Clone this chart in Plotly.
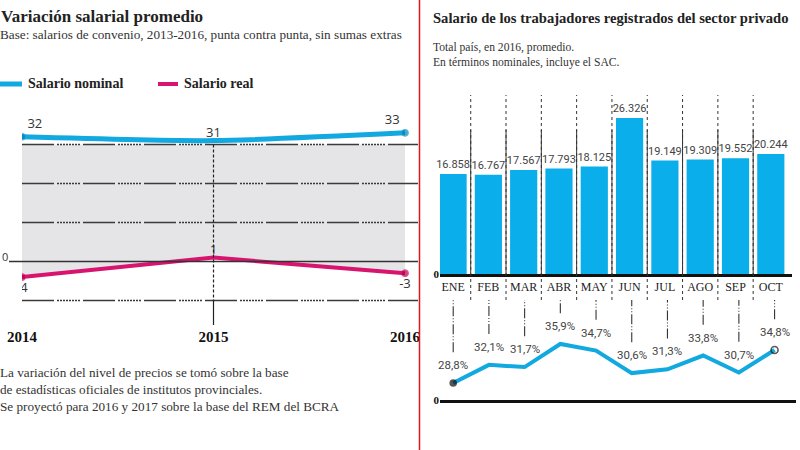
import plotly.graph_objects as go

# Left chart: variación salarial promedio (%)
years = [2014, 2015, 2016]
nominal = [32, 31, 33]
real = [-4, 1, -3]
grid_left = [30, 20, 10, -10]

# Right chart: salario promedio 2016 y variación interanual
months = ["ENE", "FEB", "MAR", "ABR", "MAY", "JUN", "JUL", "AGO", "SEP", "OCT"]
salary = [16858, 16767, 17567, 17793, 18125, 26326, 19149, 19309, 19552, 20244]
yoy = [28.8, 32.1, 31.7, 35.9, 34.7, 30.6, 31.3, 33.8, 30.7, 34.8]

BLUE = "#12a8e0"
BAR = "#0aaeea"
PINK = "#d8146f"
SERIF = "Liberation Serif, DejaVu Serif, serif"
NARROW = "Roboto, Open Sans, sans-serif"
W, H = 800, 450


def px_x(p):
    return p / W


def px_y(p):
    return 1 - p / H


fig = go.Figure()

# gray band between the 30 line and the real-salary line
fig.add_trace(go.Scatter(x=years, y=[grid_left[0]] * len(years), mode="lines",
                         line=dict(width=0), hoverinfo="skip", showlegend=False))
fig.add_trace(go.Scatter(x=years, y=real, mode="lines+markers+text", fill="tonexty",
                         fillcolor="#e5e5e7", line=dict(color=PINK, width=4),
                         marker=dict(size=[7, 0, 7], color="#b3004f"),
                         text=[str(v) for v in real],
                         textposition=["bottom center", "top center", "bottom center"],
                         textfont=dict(family="Open Sans", size=13, color="#333"),
                         showlegend=False))
fig.add_trace(go.Scatter(x=years, y=nominal, mode="lines+markers+text",
                         line=dict(color=BLUE, width=5, shape="spline", smoothing=0.6),
                         marker=dict(size=[7, 0, 7], color="#0b7fb2"),
                         text=[str(v) for v in nominal],
                         textposition=["top right", "top center", "top left"],
                         textfont=dict(family="Open Sans", size=13, color="#333"),
                         showlegend=False))

# bars
fig.add_trace(go.Bar(x=months, y=salary, marker=dict(color=BAR, line=dict(width=0)),
                     width=0.77, texttemplate="%{y:,}", textposition="outside",
                     constraintext="none",
                     textfont=dict(family=NARROW, size=11, color="#444"),
                     cliponaxis=False, xaxis="x2", yaxis="y2", showlegend=False))

# year-on-year line
n = len(yoy)
fig.add_trace(go.Scatter(x=months, y=yoy, mode="lines+markers",
                         line=dict(color=BLUE, width=4),
                         marker=dict(size=[6] + [0] * (n - 2) + [7],
                                     symbol=["circle"] * (n - 1) + ["circle-open"],
                                     color="#111", line=dict(width=1.6, color="#111")),
                         xaxis="x3", yaxis="y3", showlegend=False))

gy = 43.9
for m, v in zip(months, yoy):
    fig.add_annotation(x=m, y=v, xref="x3", yref="y3", yshift=18, showarrow=False,
                       text=f"{v:.1f}%".replace(".", ","),
                       font=dict(family=NARROW, size=11.5, color="#444"))
    fig.add_shape(type="line", xref="x3", yref="y3", x0=m, x1=m, y0=v + 5.6, y1=gy,
                  line=dict(color="#333", width=1.1, dash="10px,2px,1px,2px,1px,2px"))

# separators between bars
for i in range(len(months) - 1):
    fig.add_shape(type="line", xref="x2", yref="paper", x0=i + 0.5, x1=i + 0.5,
                  y0=px_y(300), y1=px_y(95), line=dict(color="#333", width=1, dash="dot"))
    fig.add_shape(type="line", xref="x2", yref="y2", x0=i + 0.5, x1=i + 0.5,
                  y0=0, y1=24300, line=dict(color="#333", width=1))

# left gridlines, zero line and 2015 marker line
for g in grid_left:
    fig.add_shape(type="line", xref="paper", yref="y", x0=px_x(22), x1=px_x(418), y0=g, y1=g,
                  line=dict(color="#3a3a3a", width=1.3,
                            dash="32px,3px,2px,1px,2px,1px,2px,1px,2px,1px,2px,1px,2px,1px,2px,1px,2px,3px"))
fig.add_shape(type="line", xref="paper", yref="y", x0=px_x(9), x1=px_x(418), y0=0, y1=0,
              line=dict(color="#333", width=1.4))
fig.add_shape(type="line", xref="x", yref="y", x0=years[1], x1=years[1], y0=grid_left[0],
              y1=grid_left[-1], line=dict(color="#222", width=1.2, dash="3px,2px"))
fig.add_shape(type="line", xref="x", yref="paper", x0=years[1], x1=years[1],
              y0=px_y(300), y1=px_y(325), line=dict(color="#222", width=1.2))

# red panel border
fig.add_shape(type="line", xref="paper", yref="paper", x0=px_x(419.5), x1=px_x(419.5),
              y0=0, y1=1, line=dict(color="#e3151c", width=1.5))

# legend (drawn by hand)
fig.add_shape(type="line", xref="paper", yref="paper", x0=0, x1=px_x(22),
              y0=px_y(84), y1=px_y(84), line=dict(color=BLUE, width=5))
fig.add_shape(type="line", xref="paper", yref="paper", x0=px_x(158), x1=px_x(178),
              y0=px_y(84), y1=px_y(84), line=dict(color=PINK, width=4))


def note(x, y, text, size, bold=False, color="#333", family=SERIF, anchor="left"):
    fig.add_annotation(x=px_x(x), y=px_y(y), xref="paper", yref="paper", showarrow=False,
                       xanchor=anchor, yanchor="middle", align="left",
                       text=f"<b>{text}</b>" if bold else text,
                       font=dict(family=family, size=size, color=color))


note(-1, 16, "Variación salarial promedio", 17, bold=True, color="#222")
note(-2, 35, "Base: salarios de convenio, 2013-2016, punta contra punta, sin sumas extras", 13.2)
note(26, 84, "Salario nominal", 14, bold=True, color="#222")
note(182, 84, "Salario real", 14, bold=True, color="#222")
note(0, 256, "0", 11, color="#333", family="Open Sans")
fig.add_annotation(x=px_x(-2), y=px_y(363), xref="paper", yref="paper", showarrow=False,
                   xanchor="left", yanchor="top", align="left",
                   text="La variación del nivel de precios se tomó sobre la base<br>"
                        "de estadísticas oficiales de institutos provinciales.<br>"
                        "Se proyectó para 2016 y 2017 sobre la base del REM del BCRA",
                   font=dict(family=SERIF, size=13.2, color="#333"))

note(431, 18, "Salario de los trabajadores registrados del sector privado", 14.6, bold=True, color="#222")
note(431, 47, "Total país, en 2016, promedio.", 11.6)
note(431, 62, "En términos nominales, incluye el SAC.", 11.6)

fig.update_layout(
    width=W, height=H, margin=dict(l=0, r=0, t=0, b=0, autoexpand=False),
    paper_bgcolor="white", plot_bgcolor="rgba(0,0,0,0)",
    separators=",.", showlegend=False,
    xaxis=dict(domain=[px_x(22), px_x(418)], range=[2014, 2014 + 396 / 191.5],
               tickvals=years, ticktext=[str(y) for y in years], showgrid=False,
               zeroline=False, ticks="", ticklabelstandoff=6, automargin=False,
               tickfont=dict(family=SERIF, size=15, color="#111", weight="bold")),
    yaxis=dict(domain=[px_y(320), px_y(100)], range=[-58.5 / 3.9, 161.5 / 3.9],
               visible=False, automargin=False),
    xaxis2=dict(domain=[px_x(440), px_x(792)], range=[-0.37, 9.6], anchor="y2",
                type="category", categoryarray=months, showgrid=False, ticks="",
                showline=True, linecolor="#111", linewidth=2.5, automargin=False,
                tickfont=dict(family=SERIF, size=12, color="#222")),
    yaxis2=dict(domain=[px_y(274), px_y(90)], range=[0, 31050], anchor="x2",
                showgrid=False, zeroline=False, tickvals=[0], ticktext=["0"], automargin=False,
                tickfont=dict(family=SERIF, size=11, color="#111", weight="bold")),
    xaxis3=dict(domain=[px_x(440), px_x(796)], range=[-0.37, 9.6], anchor="y3",
                type="category", categoryarray=months, showgrid=False, ticks="",
                showticklabels=False, showline=True, linecolor="#111", linewidth=3,
                automargin=False),
    yaxis3=dict(domain=[px_y(400), px_y(300)], range=[28.8 - 17 / 5.5, gy], anchor="x3",
                showgrid=False, zeroline=False, tickvals=[28.8 - 17 / 5.5], ticktext=["0"],
                automargin=False,
                tickfont=dict(family=SERIF, size=11, color="#111", weight="bold")),
)

# the page's default body margin would shift the figure by 8px
fig.write_html("out.html", config={"displayModeBar": False},
               post_script="document.body.style.margin = '0';")
